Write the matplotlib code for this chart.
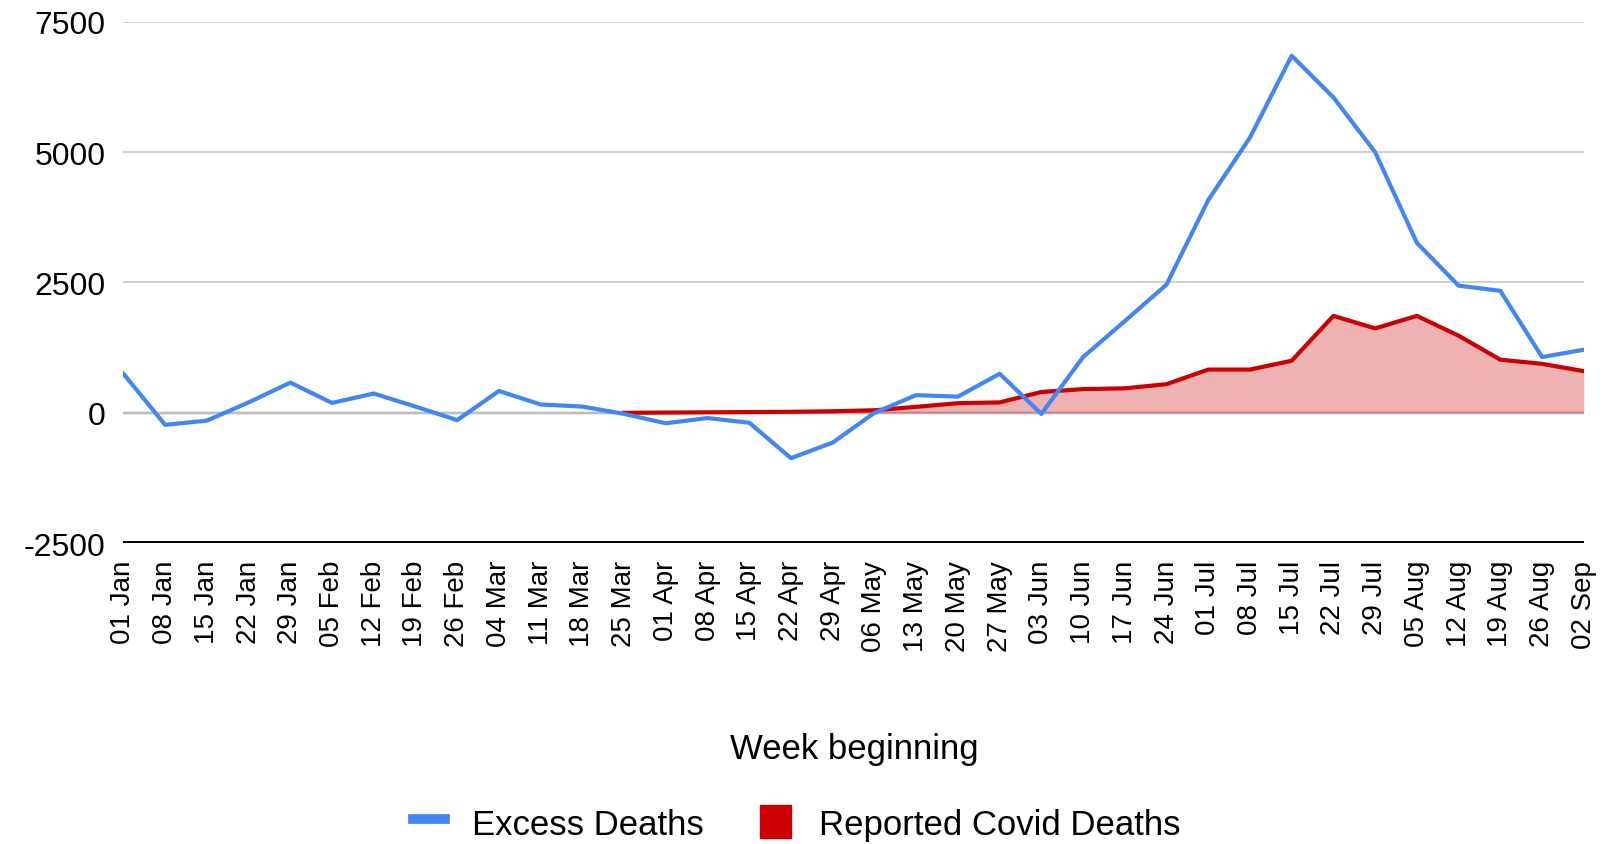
import numpy as np
import matplotlib.pyplot as plt
from matplotlib.lines import Line2D
from matplotlib.patches import Patch
from matplotlib.ticker import FuncFormatter

plt.rcParams['font.family'] = ['Liberation Sans', 'DejaVu Sans']

weeks = ["01 Jan", "08 Jan", "15 Jan", "22 Jan", "29 Jan", "05 Feb", "12 Feb", "19 Feb", "26 Feb",
         "04 Mar", "11 Mar", "18 Mar", "25 Mar", "01 Apr", "08 Apr", "15 Apr", "22 Apr", "29 Apr",
         "06 May", "13 May", "20 May", "27 May", "03 Jun", "10 Jun", "17 Jun", "24 Jun",
         "01 Jul", "08 Jul", "15 Jul", "22 Jul", "29 Jul", "05 Aug", "12 Aug", "19 Aug", "26 Aug", "02 Sep"]

excess_deaths = [750, -230, -150, 200, 580, 190, 370, 120, -140, 420, 160, 120, -20,
                 -200, -100, -190, -870, -570, 0, 340, 310, 750, -20, 1070, 1760, 2460,
                 4080, 5280, 6850, 6050, 5000, 3260, 2440, 2340, 1070, 1210]

# reported covid deaths start on 25 Mar
covid_start = 12
covid_deaths = [0, 5, 10, 15, 20, 30, 50, 115, 185, 200, 400, 455, 470, 550,
                830, 830, 1000, 1860, 1620, 1860, 1480, 1020, 940, 800]

x = np.arange(len(weeks))
xc = x[covid_start:]

fig = plt.figure(figsize=(16.03, 8.45), dpi=100)
ax = fig.add_axes([0.077, 0.356, 0.911, 0.617])

ax.fill_between(xc, 0, covid_deaths, color='#cc0000', alpha=0.3, linewidth=0, zorder=2)
ax.plot(xc, covid_deaths, color='#cc0000', linewidth=3.0, zorder=3)
ax.plot(x, excess_deaths, color='#4285f4', linewidth=3.0, zorder=4)

ax.set_ylim(-2500, 7500)
ax.set_xlim(0, len(weeks) - 1)
ax.set_yticks([-2500, 0, 2500, 5000, 7500])
ax.yaxis.set_major_formatter(FuncFormatter(lambda v, p: "%d" % v))
ax.grid(axis='y', color='#cccccc', linewidth=1.3, zorder=0)
ax.axhline(0, color='#333333', linewidth=1.6, zorder=1)
ax.axhline(-2500, color='black', linewidth=2.8, zorder=5)

ax.set_xticks(x)
ax.set_xticklabels(weeks, rotation=90, fontsize=20)
ax.tick_params(axis='y', labelsize=23, length=0, pad=13)
ax.tick_params(axis='x', length=0, pad=12)
for s in ax.spines.values():
    s.set_visible(False)

fig.text(0.533, 0.113, "Week beginning", fontsize=25, ha='center', va='center')

handles = [Line2D([0], [0], color='#4285f4', linewidth=7),
           Patch(facecolor='#cc0000', edgecolor='#cc0000')]
fig.legend(handles, ["Excess Deaths", "Reported Covid Deaths"], loc='center',
           bbox_to_anchor=(0.497, 0.025), ncol=2, frameon=False, fontsize=25,
           handlelength=0.9, handleheight=1.1, handletextpad=0.8, columnspacing=1.6)

fig.savefig("out.png", dpi=100)
